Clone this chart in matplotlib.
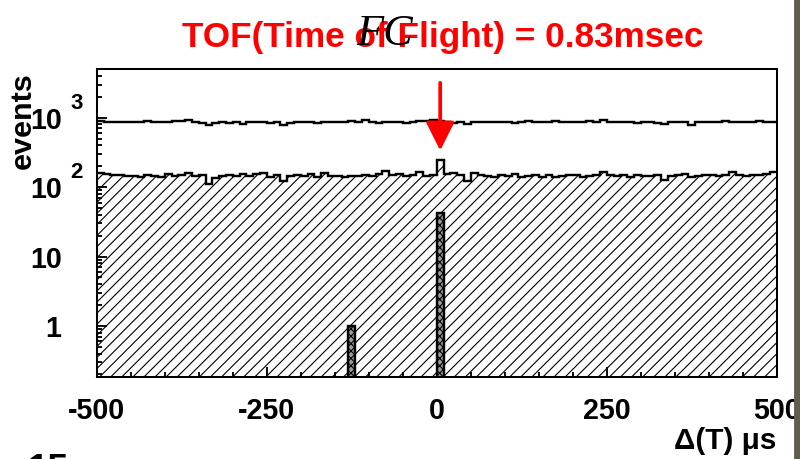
import numpy as np
import matplotlib
matplotlib.use("Agg")
import matplotlib.pyplot as plt
from matplotlib.patches import Rectangle
from matplotlib.transforms import blended_transform_factory

# 100 bins of 10 us between -500 and 500
edges = np.arange(-500, 501, 10)

# total events (upper step line)
upper = [885, 870, 855, 870, 880, 860, 870, 885, 880, 855,
         870, 885, 890, 915, 860, 845, 795, 840, 865, 850,
         870, 805, 860, 880, 870, 850, 865, 785, 845, 870,
         880, 855, 850, 875, 880, 855, 870, 885, 855, 935,
         860, 850, 870, 880, 855, 845, 870, 890, 910, 930,
         905, 855, 845, 860, 800, 855, 870, 880, 855, 870,
         860, 850, 875, 890, 880, 855, 870, 885, 855, 870,
         855, 870, 885, 865, 920, 870, 855, 870, 860, 850,
         870, 860, 850, 800, 855, 870, 860, 790, 855, 870,
         880, 865, 885, 870, 855, 875, 865, 885, 870, 880]

# selected events (hatched histogram)
lower = [160, 157, 148, 151, 143, 145, 139, 152, 146, 142,
         154, 145, 151, 162, 147, 151, 110, 137, 143, 150,
         144, 154, 143, 156, 160, 142, 151, 122, 145, 152,
         147, 154, 140, 158, 147, 144, 138, 144, 147, 152,
         146, 153, 172, 149, 154, 146, 151, 167, 144, 151,
         242, 157, 160, 151, 121, 160, 149, 145, 138, 149,
         144, 154, 140, 147, 152, 142, 149, 140, 147, 152,
         148, 142, 147, 152, 164, 150, 144, 151, 140, 152,
         147, 144, 151, 126, 147, 152, 154, 138, 147, 152,
         148, 143, 151, 166, 150, 144, 149, 152, 154, 167]

# coincidence bins (dense filled bars)
bar_left = [-130, 0]
bar_height = [1.0, 43]

xticks = [-500, -250, 0, 250, 500]
yticks = [1, 10, 100, 1000]
ytick_labels = ["1", "10", "10", "10"]
yexp = {100: "2", 1000: "3"}

arrow_x = 5
arrow_from, arrow_to = 3180, 336

plt.rcParams["font.family"] = ["Liberation Sans", "DejaVu Sans"]
plt.rcParams["font.weight"] = "bold"
plt.rcParams["hatch.linewidth"] = 0.6

fig = plt.figure(figsize=(6, 3.4425), dpi=400 / 3)
ax = fig.add_axes([0.121, 0.1797, 0.85, 0.669])

ax.stairs(lower, edges, baseline=0.01, fill=True, facecolor="white",
          edgecolor="black", hatch="////", linewidth=0)
ax.stairs(lower, edges, baseline=None, color="black", lw=1.3)
ax.stairs(upper, edges, baseline=None, color="black", lw=1.3)
ax.bar(bar_left, bar_height, width=10, align="edge", bottom=0.01,
       facecolor="#9a9a9a", edgecolor="black", hatch="xxxxxx", lw=1.3)

ax.annotate("", xy=(arrow_x, arrow_to), xytext=(arrow_x, arrow_from),
            arrowprops=dict(arrowstyle="-|>,head_width=0.65,head_length=1.3",
                            color="red", lw=2.0, shrinkA=0, shrinkB=0))

ax.set_yscale("log")
ax.set_xlim(-500, 500)
ax.set_ylim(0.187, 4960)

ax.set_xticks(xticks)
ax.set_xticklabels([str(v) for v in xticks])
ax.set_xticks(np.arange(-500, 501, 50), minor=True)
ax.set_yticks(yticks)
ax.set_yticklabels(ytick_labels)
ax.tick_params(which="both", direction="in", top=False, right=False,
               labelsize=15.5, width=1.0)
ax.tick_params(axis="x", which="major", length=5.4, pad=11)
ax.tick_params(axis="x", which="minor", length=2.7)
ax.tick_params(axis="y", which="major", length=5.4, pad=19)
ax.tick_params(axis="y", which="minor", length=2.7)
for lab in ax.get_xticklabels() + ax.get_yticklabels():
    lab.set_fontweight("bold")

trans = blended_transform_factory(ax.transAxes, ax.transData)
for val, e in yexp.items():
    ax.text(-0.03, val * 1.6, e, transform=trans, ha="center", va="center",
            fontsize=12, fontweight="bold")

for s in ax.spines.values():
    s.set_linewidth(1.1)

ax.set_ylabel("events", fontsize=16.5, fontweight="bold")
ax.yaxis.set_label_coords(-0.088, 0.832)
ax.set_xlabel("\u0394(T) \u03bcs", fontsize=16, fontweight="bold", loc="right",
              labelpad=1)

fig.text(0.553, 0.898, "TOF(Time of Flight) = 0.83msec", color="red",
         fontsize=19, fontweight="bold", ha="center", va="baseline")
fig.text(0.481, 0.902, "FC", family="Liberation Serif", style="italic",
         fontweight="normal", fontsize=24, ha="center", va="baseline", zorder=5)
fig.text(0.06, 0.013, "15", fontsize=20, fontweight="bold", ha="center", va="top")

fig.patches.append(Rectangle((795 / 800, 0), 5 / 800, 1, transform=fig.transFigure,
                             color="#5e5e4a", zorder=10))

fig.savefig("out.png", dpi=400 / 3)
